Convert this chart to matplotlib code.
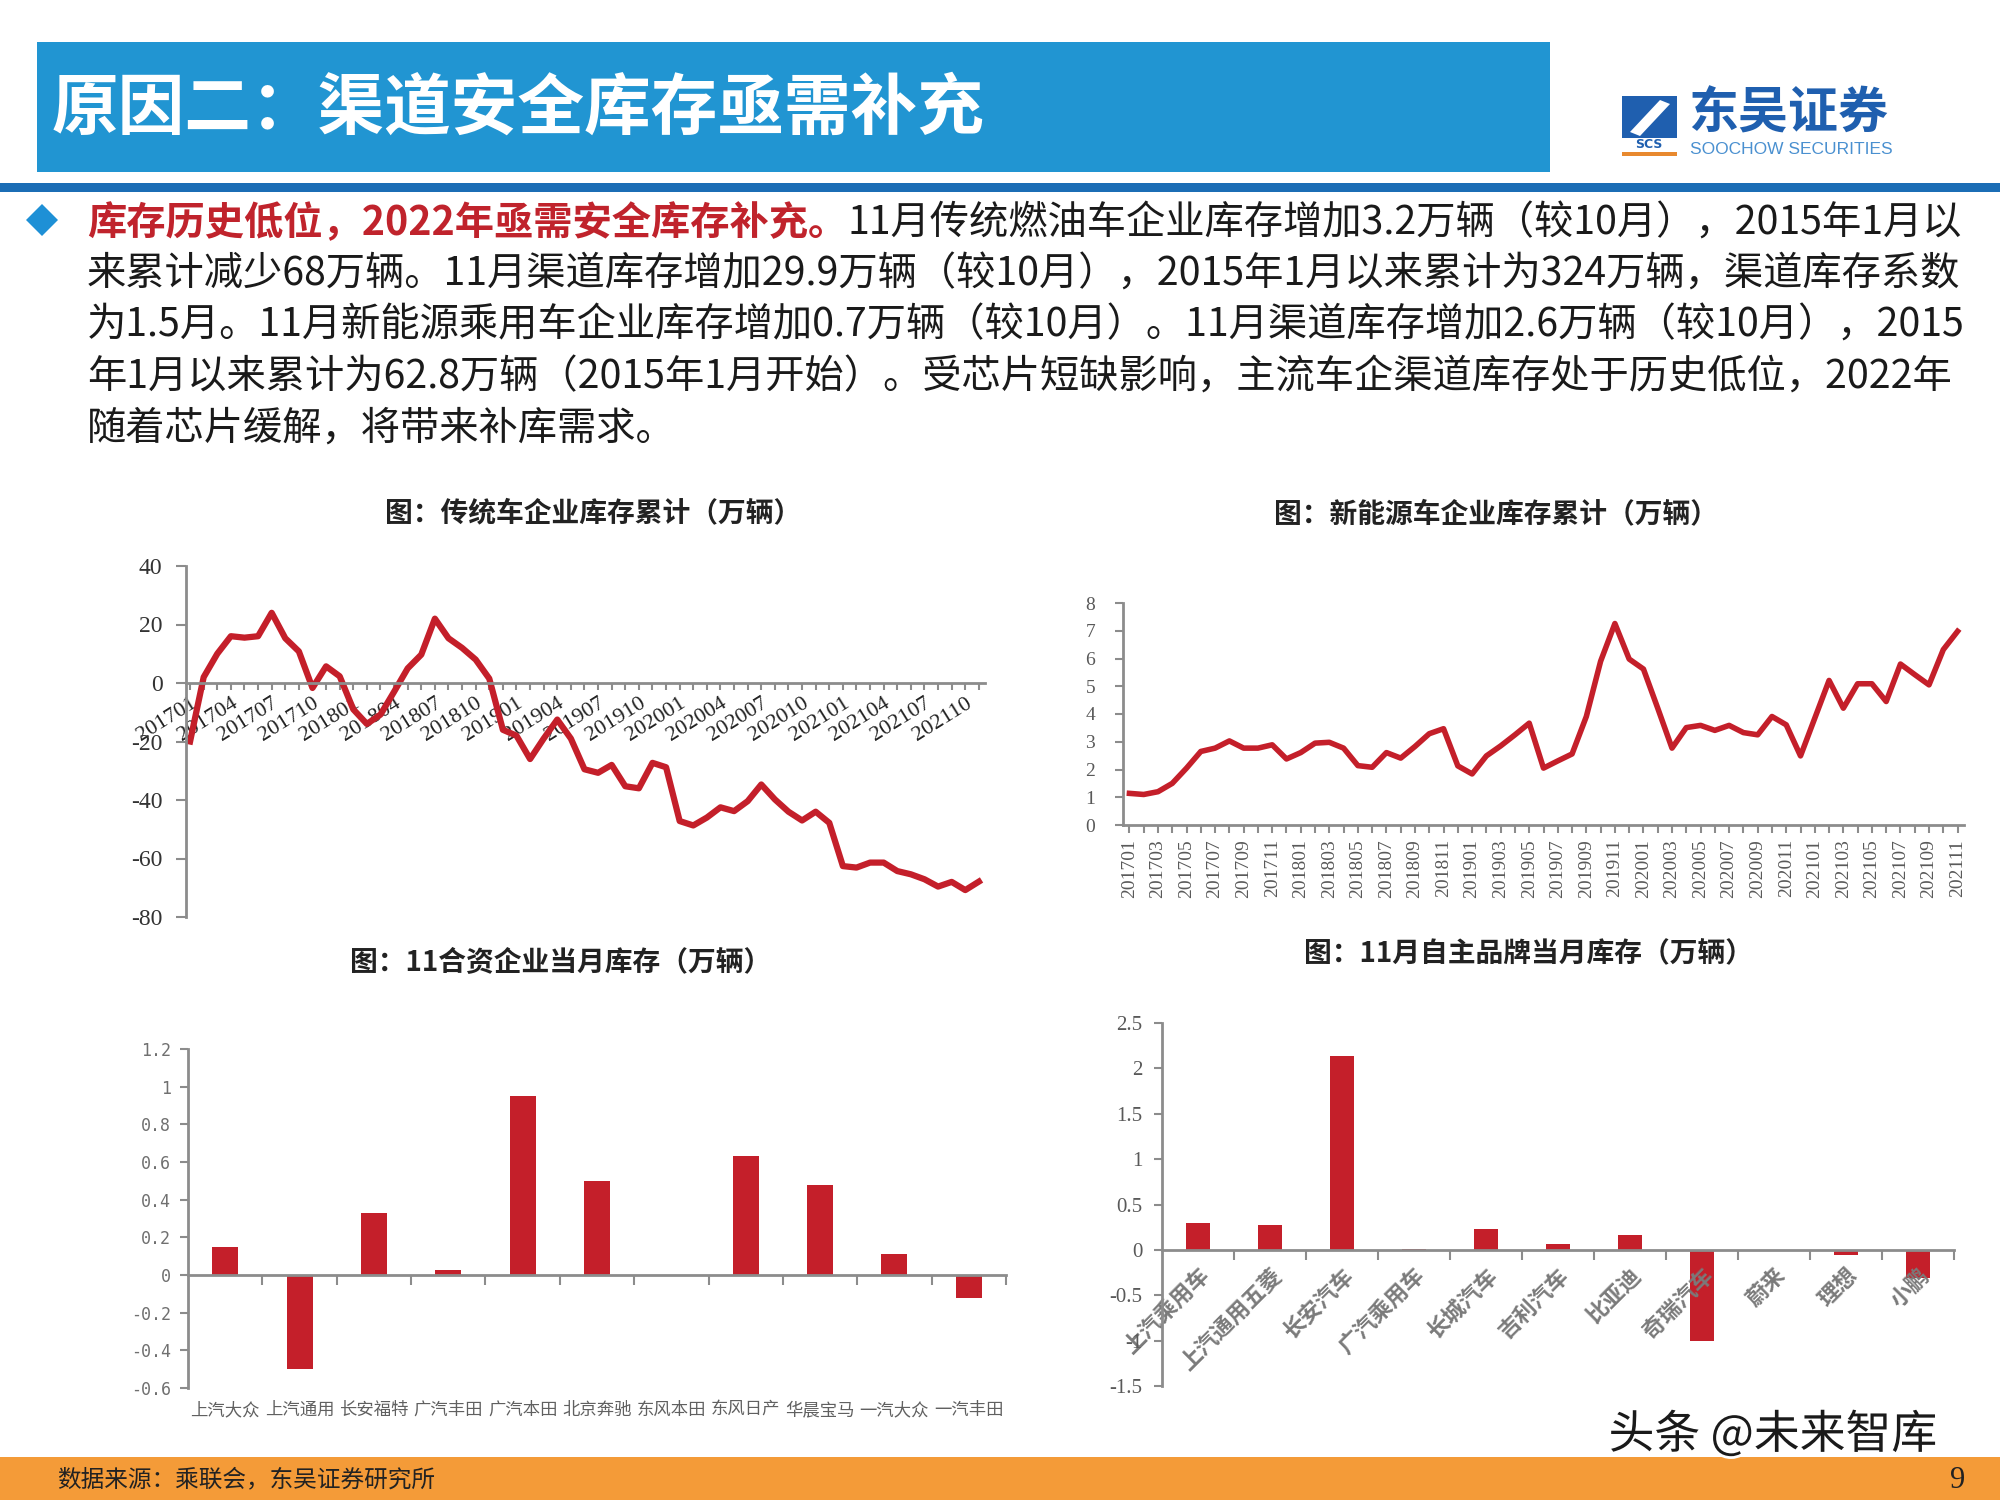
import matplotlib
matplotlib.use("Agg")
import matplotlib.pyplot as plt
import matplotlib.transforms as mtransforms
import matplotlib.patheffects as pe
from matplotlib.patches import Rectangle, Polygon
import numpy as np

plt.rcParams['font.family'] = ['Noto Sans CJK SC', 'DejaVu Sans']
plt.rcParams['axes.unicode_minus'] = False

# ---- data ----
months = [f"{y}{m:02d}" for y in range(2017, 2022) for m in range(1, 13)][:59]

traditional_cum = [-20, 2, 10, 16, 15.5, 16, 24, 15.3, 10.8, -1.7,
                   5.7, 2.3, -9, -14, -10.8, -3, 5, 9.7, 22, 15.3,
                   12, 8, 1.5, -16, -18, -26, -19, -12.5, -19, -29.5,
                   -30.7, -28, -35.3, -36, -27.3, -28.8, -47.2, -48.7, -46, -42.5,
                   -43.8, -40.4, -34.7, -39.8, -44, -47, -44, -47.8, -62.6, -63.1,
                   -61.4, -61.4, -64.3, -65.4, -67.1, -69.6, -68, -70.8, -67.9]

nev_cum = [1.14, 1.1, 1.2, 1.5, 2.05, 2.65, 2.77, 3.03, 2.77, 2.77,
           2.89, 2.38, 2.61, 2.95, 2.98, 2.77, 2.14, 2.08, 2.61, 2.41,
           2.83, 3.29, 3.47, 2.13, 1.84, 2.49, 2.85, 3.25, 3.67, 2.05,
           2.31, 2.56, 3.91, 5.9, 7.26, 5.98, 5.62, 4.21, 2.77, 3.51,
           3.59, 3.41, 3.59, 3.33, 3.25, 3.91, 3.61, 2.49, 3.85, 5.21,
           4.21, 5.09, 5.09, 4.45, 5.8, 5.42, 5.05, 6.32, 6.98]

jv_names = ['上汽大众', '上汽通用', '长安福特', '广汽丰田', '广汽本田', '北京奔驰',
            '东风本田', '东风日产', '华晨宝马', '一汽大众', '一汽丰田']
jv_values = [0.15, -0.5, 0.33, 0.027, 0.95, 0.5, 0, 0.63, 0.48, 0.11, -0.12]

own_names = ['上汽乘用车', '上汽通用五菱', '长安汽车', '广汽乘用车', '长城汽车', '吉利汽车',
             '比亚迪', '奇瑞汽车', '蔚来', '理想', '小鹏']
own_values = [0.3, 0.27, 2.14, 0.01, 0.23, 0.06, 0.16, -1.0, 0, -0.06, -0.31]

RED = '#C41F2A'
GRAY = '#8C8C8C'
SERIF = 'Liberation Serif'

fig = plt.figure(figsize=(20, 15), dpi=100)


def fx(px):
    return px / 2000


def fy(py):
    return 1 - py / 1500


def box(x0, y0, x1, y1, color):
    fig.add_artist(Rectangle((fx(x0), fy(y1)), fx(x1) - fx(x0), fy(y0) - fy(y1),
                             transform=fig.transFigure, color=color, lw=0))


# ---- header ----
box(37, 42, 1550, 172, '#2195D2')
fig.text(fx(52), fy(109), '原因二：渠道安全库存亟需补充', color='white', size=48,
         weight='bold', va='center')
box(0, 183, 2000, 192, '#1B6DB5')

# logo
box(1622, 96, 1677, 138, '#1F5FAF')
fig.add_artist(Polygon([(fx(1630), fy(132)), (fx(1660), fy(100)), (fx(1670), fy(104)), (fx(1640), fy(136))],
                       closed=True, transform=fig.transFigure, color='white', lw=0))
fig.text(fx(1649), fy(145), 'SCS', color='#1F5FAF', size=9, weight='bold',
         ha='center', va='center', family='DejaVu Sans')
box(1622, 152, 1677, 156, '#E8892E')
fig.text(fx(1688), fy(114), '东吴证券', color='#1F5FAF', size=36, weight='bold', va='center')
fig.text(fx(1690), fy(149), 'SOOCHOW SECURITIES', color='#4A90D0', size=12.5,
         va='center', family='Liberation Sans')

# ---- bullet paragraph ----
fig.add_artist(Polygon([(fx(26), fy(220)), (fx(42), fy(204)), (fx(58), fy(220)), (fx(42), fy(236))],
                       closed=True, transform=fig.transFigure, color='#1E90D6', lw=0))
para_size = 28.3
t_red = fig.text(fx(87), fy(219), '库存历史低位，2022年亟需安全库存补充。', color='#C0232C',
                 size=para_size, weight='bold', va='center_baseline')
fig.canvas.draw()
red_box = t_red.get_window_extent(renderer=fig.canvas.get_renderer())
fig.text(red_box.x1 / fig.bbox.width, fy(219), '11月传统燃油车企业库存增加3.2万辆（较10月），2015年1月以',
         color='#1A1A1A', size=para_size, va='center_baseline')
para_lines = ['来累计减少68万辆。11月渠道库存增加29.9万辆（较10月），2015年1月以来累计为324万辆，渠道库存系数',
              '为1.5月。11月新能源乘用车企业库存增加0.7万辆（较10月）。11月渠道库存增加2.6万辆（较10月），2015',
              '年1月以来累计为62.8万辆（2015年1月开始）。受芯片短缺影响，主流车企渠道库存处于历史低位，2022年',
              '随着芯片缓解，将带来补库需求。']
for k, line in enumerate(para_lines):
    fig.text(fx(87), fy(270 + 51.5 * k), line, color='#1A1A1A', size=para_size, va='center_baseline')

# ---- chart titles ----
title_kw = dict(ha='center', va='center', size=20, weight='bold', color='#222222')
fig.text(fx(593), fy(513), '图：传统车企业库存累计（万辆）', **title_kw)
fig.text(fx(1496), fy(514), '图：新能源车企业库存累计（万辆）', **title_kw)
fig.text(fx(561), fy(963), '图：11合资企业当月库存（万辆）', **title_kw)
fig.text(fx(1528), fy(954), '图：11月自主品牌当月库存（万辆）', **title_kw)


def style_spines(ax):
    for s in ['top', 'right']:
        ax.spines[s].set_visible(False)
    for s in ['left', 'bottom']:
        ax.spines[s].set_color(GRAY)
        ax.spines[s].set_linewidth(2)


# ---- chart 1: traditional cumulative ----
ax1 = fig.add_axes([fx(186), fy(917), fx(985) - fx(186), fy(566) - fy(917)])
ax1.plot(range(len(months)), traditional_cum, color=RED, lw=4.5, solid_joinstyle='round')
ax1.set_xlim(-0.3, 58.45)
ax1.set_ylim(-80, 40)
style_spines(ax1)
ax1.spines['bottom'].set_position(('data', 0))
ax1.set_xticks(range(len(months)))
ax1.set_xticklabels([m if i % 3 == 0 else '' for i, m in enumerate(months)],
                    rotation=32, ha='right', rotation_mode='anchor',
                    family=SERIF, size=16, color='#222222')
ax1.tick_params(axis='x', direction='out', length=5, width=1.5, color=GRAY, pad=3)
ax1.set_yticks(range(-80, 41, 20))
ax1.set_yticklabels([str(v) for v in range(-80, 41, 20)], family=SERIF, size=17, color='#333333')
ax1.tick_params(axis='y', direction='out', length=7, width=1.5, color=GRAY, pad=10)

# ---- chart 2: NEV cumulative ----
ax2 = fig.add_axes([fx(1123), fy(825), fx(1964) - fx(1123), fy(603) - fy(825)])
ax2.plot(range(len(months)), nev_cum, color=RED, lw=4, solid_joinstyle='round')
ax2.set_xlim(-0.45, 58.45)
ax2.set_ylim(0, 8)
style_spines(ax2)
ax2.set_xticks(range(len(months)))
ax2.set_xticklabels([m if i % 2 == 0 else '' for i, m in enumerate(months)],
                    rotation=90, family=SERIF, size=14, color='#595959')
ax2.tick_params(axis='x', direction='out', length=6, width=1.5, color=GRAY, pad=4)
ax2.set_yticks(range(0, 9))
ax2.set_yticklabels([str(v) for v in range(0, 9)], family=SERIF, size=14, color='#595959')
ax2.tick_params(axis='y', direction='out', length=6, width=1.5, color=GRAY, pad=14)

# ---- chart 3: joint ventures ----
ax3 = fig.add_axes([fx(188), fy(1388), fx(1006) - fx(188), fy(1049) - fy(1388)])
ax3.bar(range(len(jv_names)), jv_values, width=0.35, color=RED)
ax3.set_xlim(-0.5, 10.5)
ax3.set_ylim(-0.6, 1.2)
style_spines(ax3)
ax3.spines['bottom'].set_position(('data', 0))
ax3.set_xticks(np.arange(0.5, 10.6, 1))
ax3.set_xticklabels([])
ax3.tick_params(axis='x', direction='out', length=7, width=1.5, color=GRAY)
yt3 = np.round(np.arange(-0.6, 1.21, 0.2), 1)
ax3.set_yticks(yt3)
ax3.set_yticklabels([f"{v:g}" if v != 0 else '0' for v in yt3], size=12, color='#707070',
                    family=['DejaVu Sans Mono', 'DejaVu Sans'])
ax3.tick_params(axis='y', direction='out', length=6, width=1.5, color=GRAY, pad=6)
blend3 = mtransforms.blended_transform_factory(ax3.transData, ax3.transAxes)
for i, name in enumerate(jv_names):
    ax3.text(i, -0.065, name, transform=blend3, ha='center', va='center',
             size=12.5, color='#606060', clip_on=False)

# ---- chart 4: domestic brands ----
ax4 = fig.add_axes([fx(1162), fy(1386), fx(1954) - fx(1162), fy(1023) - fy(1386)])
ax4.bar(range(len(own_names)), own_values, width=0.33, color=RED)
ax4.set_xlim(-0.5, 10.5)
ax4.set_ylim(-1.5, 2.5)
style_spines(ax4)
ax4.spines['bottom'].set_position(('data', 0))
ax4.set_xticks(np.arange(0.5, 10.6, 1))
ax4.set_xticklabels([])
ax4.tick_params(axis='x', which='major', direction='out', length=7, width=1.5, color=GRAY)
ax4.set_xticks(range(len(own_names)), minor=True)
ax4.set_xticklabels(own_names, minor=True, rotation=45, ha='right', rotation_mode='anchor',
                    size=16, weight='bold', color='#7A7A7A')
ax4.tick_params(axis='x', which='minor', length=0, pad=10)
yt4 = np.arange(-1.5, 2.51, 0.5)
ax4.set_yticks(yt4)
ax4.set_yticklabels([f"{v:g}" for v in yt4], family=SERIF, size=15, color='#595959')
ax4.tick_params(axis='y', direction='out', length=6, width=1.5, color=GRAY, pad=8)

# ---- footer ----
fig.text(fx(1773), fy(1435), '头条 @未来智库', size=33, color='#1A1A1A', ha='center', va='center',
         path_effects=[pe.withStroke(linewidth=4, foreground='white')])
box(0, 1457, 2000, 1500, '#F49B38')
fig.text(fx(57), fy(1480), '数据来源：乘联会，东吴证券研究所', size=17, color='#222222', va='center')
fig.text(fx(1965), fy(1480), '9', size=22, color='#222222', va='center', ha='right', family=SERIF)

fig.savefig('out.png', dpi=100)
